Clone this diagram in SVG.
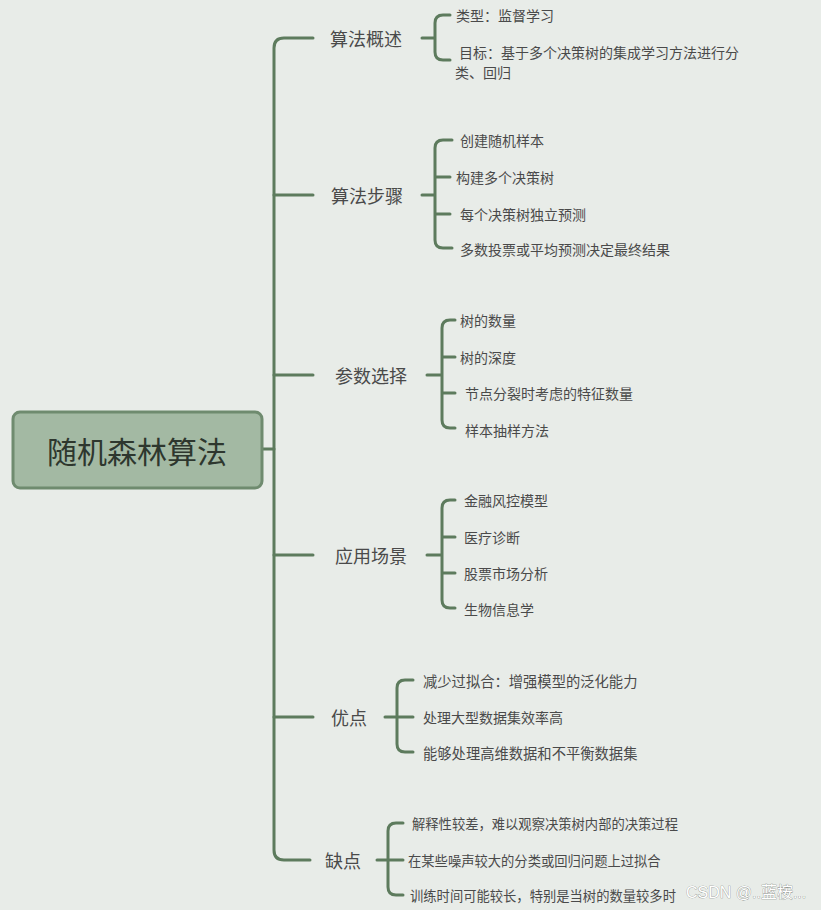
<svg xmlns="http://www.w3.org/2000/svg" width="821" height="910" viewBox="0 0 821 910">
<style>
.ln{fill:none;stroke:#5d7b5d;stroke-width:3;stroke-linecap:round;stroke-linejoin:round}
.main{font-family:"Noto Sans CJK SC","Noto Sans",sans-serif;font-size:18px;fill:#4a4a4a;dominant-baseline:central}
.leaf{font-family:"Noto Sans CJK SC","Noto Sans",sans-serif;font-size:14px;fill:#4a4a4a;dominant-baseline:central}
.leaf2{font-family:"Noto Sans CJK SC","Noto Sans",sans-serif;font-size:13.3px;fill:#4a4a4a;dominant-baseline:central}
.root{font-family:"Noto Sans CJK SC","Noto Sans",sans-serif;font-size:30px;fill:#2e372e;dominant-baseline:central;text-anchor:middle}
</style>
<rect width="821" height="910" fill="#e8ece8"/>
<g id="connectors">
<path class="ln" d="M262 449 H274"/>
<path class="ln" d="M313 38 H284 Q274 38 274 48 V850 Q274 860 284 860 H310"/>
<path class="ln" d="M274 195 H313 M274 375 H313 M274 555 H313 M274 717 H313"/>
<path class="ln" d="M422 38 H435 M450 15 H443 Q435 15 435 23 V52 Q435 60 443 60 H450"/>
<path class="ln" d="M422 195 H435 M452 140 H443 Q435 140 435 148 V240 Q435 248 443 248 H452 M435 177 H450 M435 214 H450"/>
<path class="ln" d="M427 375 H442 M455 320 H450 Q442 320 442 328 V420 Q442 428 450 428 H455 M442 357 H455 M442 393 H455"/>
<path class="ln" d="M427 555 H442 M455 500 H450 Q442 500 442 508 V600 Q442 608 450 608 H455 M442 537 H455 M442 573 H455"/>
<path class="ln" d="M385 717 H397 M413 680 H405 Q397 680 397 688 V744 Q397 752 405 752 H413 M397 717 H413"/>
<path class="ln" d="M377 860 H388 M403 823 H396 Q388 823 388 831 V887 Q388 895 396 895 H403 M388 860 H403"/>
</g>
<g id="root">
<rect x="13" y="412" width="249" height="76" rx="7" fill="#a3b9a3" stroke="#6f8b6f" stroke-width="3"/>
<text class="root" x="137" y="450">随机森林算法</text>
</g>
<g id="n1">
<text class="main" x="330" y="38">算法概述</text>
<text class="leaf" x="456" y="15">类型：监督学习</text>
<text class="leaf" x="459" y="52">目标：基于多个决策树的集成学习方法进行分</text>
<text class="leaf" x="455" y="72">类、回归</text>
</g>
<g id="n2">
<text class="main" x="331" y="195">算法步骤</text>
<text class="leaf" x="460" y="140">创建随机样本</text>
<text class="leaf" x="456" y="177">构建多个决策树</text>
<text class="leaf" x="460" y="214">每个决策树独立预测</text>
<text class="leaf" x="460" y="249">多数投票或平均预测决定最终结果</text>
</g>
<g id="n3">
<text class="main" x="335" y="375">参数选择</text>
<text class="leaf" x="460" y="320">树的数量</text>
<text class="leaf" x="460" y="357">树的深度</text>
<text class="leaf" x="465" y="393">节点分裂时考虑的特征数量</text>
<text class="leaf" x="465" y="430">样本抽样方法</text>
</g>
<g id="n4">
<text class="main" x="335" y="555">应用场景</text>
<text class="leaf" x="464" y="500">金融风控模型</text>
<text class="leaf" x="464" y="537">医疗诊断</text>
<text class="leaf" x="464" y="573">股票市场分析</text>
<text class="leaf" x="464" y="609">生物信息学</text>
</g>
<g id="n5">
<text class="main" x="331" y="717">优点</text>
<text class="leaf" x="423" y="680" style="font-size:14.3px">减少过拟合：增强模型的泛化能力</text>
<text class="leaf" x="423" y="717">处理大型数据集效率高</text>
<text class="leaf" x="423" y="752" style="font-size:14.3px">能够处理高维数据和不平衡数据集</text>
</g>
<g id="n6">
<text class="main" x="325" y="860">缺点</text>
<text class="leaf2" x="412" y="823">解释性较差，难以观察决策树内部的决策过程</text>
<text class="leaf2" x="408" y="860">在某些噪声较大的分类或回归问题上过拟合</text>
<text class="leaf2" x="410" y="895">训练时间可能较长，特别是当树的数量较多时</text>
</g>
<text x="686" y="892" font-family="'Liberation Sans','Noto Sans CJK SC',sans-serif" font-size="16" fill="#ffffff" stroke="#7d847d" stroke-width="0.6" paint-order="stroke" dominant-baseline="central">CSDN @..蓝桉...</text>
</svg>
